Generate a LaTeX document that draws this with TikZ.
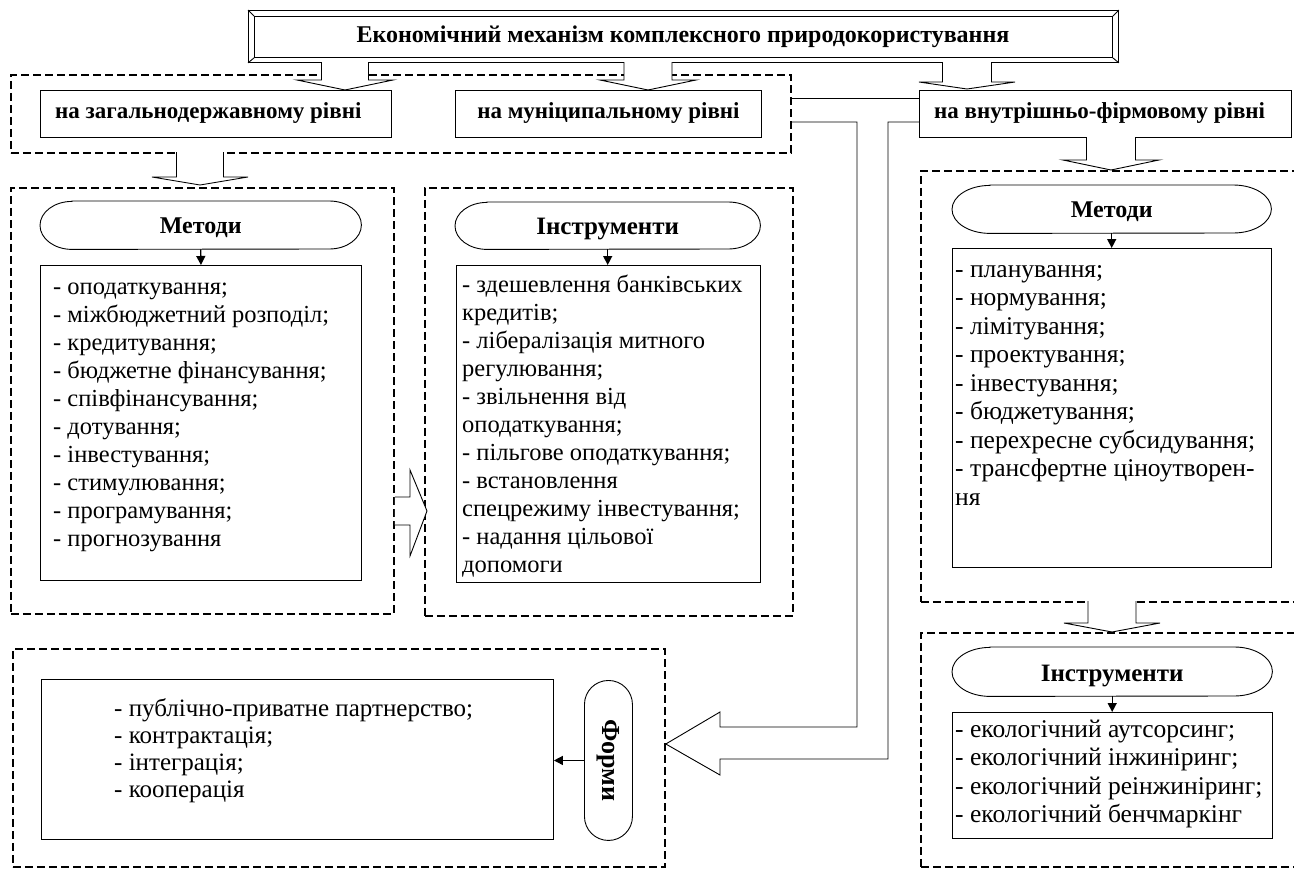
\documentclass[tikz,border=0pt]{standalone}
\usepackage{fontspec}
\setmainfont{Liberation Serif}
\usepackage{graphicx}
\usetikzlibrary{arrows.meta,calc}
\newcommand{\lst}[1]{\begin{tabular}[t]{@{}l@{}}#1\end{tabular}}
\newcommand{\blkdown}[6]{%
  \draw[barrow] ({#1-#3},{-#2}) -- ({#1-#3},{-#5}) -- ({#1-#4},{-#5}) -- (#1,{-#6}) -- ({#1+#4},{-#5}) -- ({#1+#3},{-#5}) -- ({#1+#3},{-#2});}
\newcommand{\ovalpath}[3]{%
  \draw[thinl, fill=white] ($(#1.north west)+(#2,0)$) -- ($(#1.north east)+(-#2,0)$)
    arc[start angle=90,end angle=-90,x radius=#2,y radius=#3]
    -- ($(#1.south west)+(#2,0)$)
    arc[start angle=270,end angle=90,x radius=#2,y radius=#3] -- cycle;}
\begin{document}
\begin{tikzpicture}[x=1pt,y=1pt,
  dbox/.style={draw, line width=1.8pt, dash pattern=on 8pt off 4pt, rectangle, inner sep=0pt, anchor=north west},
  sbox/.style={draw, line width=0.9pt, rectangle, inner sep=0pt, anchor=north west, fill=white},
  area/.style={rectangle, inner sep=0pt, anchor=north west},
  thinl/.style={line width=0.9pt},
  barrow/.style={draw, line width=0.9pt, fill=white, line join=miter},
  small/.style={line width=1.4pt, -{Triangle[length=9pt,width=9pt]}},
  lvl/.style={font=\fontsize{23}{27}\selectfont\bfseries, inner sep=0pt, anchor=base},
  ovt/.style={font=\fontsize{24}{28}\selectfont\bfseries, inner sep=0pt, anchor=base},
  body/.style={font=\fontsize{24.5}{28}\selectfont, inner sep=0pt, anchor=base west},
  bodyr/.style={font=\fontsize{25.5}{28.5}\selectfont, inner sep=0pt, anchor=base west},
]
\useasboundingbox (0,0) rectangle (1294,-870);
\clip (0,0) rectangle (1294,-870);

% dashed group frames
\node[dbox, minimum width=780pt, minimum height=78pt] (topdash) at (10,-74) {};
\node[dbox, minimum width=383pt, minimum height=426pt] (dashL) at (10,-187) {};
\node[dbox, minimum width=368pt, minimum height=428pt] (dashM) at (424,-187) {};
\node[dbox, minimum width=400pt, minimum height=431pt] (dashR1) at (920,-170) {};
\node[dbox, minimum width=400pt, minimum height=234pt] (dashR2) at (920,-632) {};
\node[dbox, minimum width=652pt, minimum height=218pt] (dashB) at (12,-648) {};

% title
\node[sbox, minimum width=870pt, minimum height=52pt] (title) at (248,-10) {};
\draw[thinl] ($(title.north west)+(6,-6)$) rectangle ($(title.south east)+(-6,5)$);
\draw[thinl] (title.north west) -- ++(6,-6);
\draw[thinl] (title.north east) -- ++(-6,-6);
\draw[thinl] (title.south west) -- ++(6,5);
\draw[thinl] (title.south east) -- ++(-6,5);
\node[font=\fontsize{24}{28}\selectfont\bfseries, inner sep=0pt, anchor=base] (titlet) at (683,-42) {Економічний механізм комплексного природокористування};

% level boxes
\node[sbox, minimum width=351pt, minimum height=47pt] (lvlA) at (40,-90) {};
\node[lvl, anchor=base west] (lvlAt) at (55,-118) {на загальнодержавному рівні};
\node[sbox, minimum width=306pt, minimum height=47pt] (lvlB) at (455,-90) {};
\node[lvl] (lvlBt) at (lvlB.center |- 0,-118) {на муніципальному рівні};
\node[sbox, minimum width=372pt, minimum height=47pt] (lvlC) at (919,-90) {};
\node[lvl, anchor=base west] (lvlCt) at (934,-118) {на внутрішньо-фірмовому рівні};

% connectors between level boxes and the big arrow to "Форми"
\coordinate (y98) at (0,-98);
\coordinate (y122) at (0,-122);
\coordinate (tipB) at (0,-744);
\draw[thinl] (topdash.east |- y98) -- (lvlC.west |- y98);
\draw[thinl, line join=miter] (topdash.east |- y122) -- (857,-122) -- (857,-727) -- (720,-727) -- (720,-712)
  -- (dashB.east |- tipB) -- (720,-775) -- (720,-759) -- (888,-759) -- (888,-122) -- (lvlC.west |- y122);

% left column: Методи
\node[area, minimum width=321pt, minimum height=48pt] (ovalL) at (40,-201) {};
\ovalpath{ovalL}{32}{24}
\node[ovt] (ovalLt) at (ovalL.center |- 0,-233) {Методи};
\node[sbox, minimum width=321pt, minimum height=315pt] (listL) at (40,-265) {};
\node[body] (listLt) at (53,-294) {\lst{- оподаткування;\\
- міжбюджетний розподіл;\\
- кредитування;\\
- бюджетне фінансування;\\
- співфінансування;\\
- дотування;\\
- інвестування;\\
- стимулювання;\\
- програмування;\\
- прогнозування}};
\draw[small] (ovalL.south) -- (listL.north);

% middle column: Інструменти
\node[area, minimum width=305pt, minimum height=47pt] (ovalM) at (455,-202) {};
\ovalpath{ovalM}{32}{23.5}
\node[ovt, font=\fontsize{25}{29}\selectfont\bfseries] (ovalMt) at (ovalM.center |- 0,-234) {Інструменти};
\node[sbox, minimum width=304pt, minimum height=317pt] (listM) at (456,-265) {};
\node[body] (listMt) at (462,-292) {\lst{- здешевлення банківських\\
кредитів;\\
- лібералізація митного\\
регулювання;\\
- звільнення від\\
оподаткування;\\
- пільгове оподаткування;\\
- встановлення\\
спецрежиму інвестування;\\
- надання цільової\\
допомоги}};
\draw[small] (ovalM.south) -- (ovalM.south |- listM.north);

% right column: Методи
\node[area, minimum width=319pt, minimum height=48pt] (ovalR1) at (952,-185) {};
\ovalpath{ovalR1}{38}{24}
\node[ovt] (ovalR1t) at (ovalR1.center |- 0,-217) {Методи};
\node[sbox, minimum width=319pt, minimum height=319pt] (listR1) at (952,-248) {};
\node[bodyr] (listR1t) at (955,-277) {\lst{- планування;\\
- нормування;\\
- лімітування;\\
- проектування;\\
- інвестування;\\
- бюджетування;\\
- перехресне субсидування;\\
- трансфертне ціноутворен-\\
ня}};
\draw[small] (ovalR1.south) -- (ovalR1.south |- listR1.north);

% right column: Інструменти
\node[area, minimum width=320pt, minimum height=49pt] (ovalR2) at (952,-647) {};
\ovalpath{ovalR2}{38}{24.5}
\node[ovt, font=\fontsize{25}{29}\selectfont\bfseries] (ovalR2t) at (ovalR2.center |- 0,-681) {Інструменти};
\node[sbox, minimum width=320pt, minimum height=126pt] (listR2) at (952,-712) {};
\node[bodyr] (listR2t) at (955,-737) {\lst{- екологічний аутсорсинг;\\
- екологічний інжиніринг;\\
- екологічний реінжиніринг;\\
- екологічний бенчмаркінг}};
\draw[small] (ovalR2.south) -- (ovalR2.south |- listR2.north);

% bottom: Форми
\node[sbox, minimum width=512pt, minimum height=160pt] (listB) at (41,-679) {};
\node[body, font=\fontsize{25}{27}\selectfont] (listBt) at (114,-716) {\lst{- публічно-приватне партнерство;\\
- контрактація;\\
- інтеграція;\\
- кооперація}};
\node[draw, thinl, rounded corners=24pt, minimum width=48pt, minimum height=160pt, inner sep=0pt, anchor=north west, fill=white] (formy) at (584,-680) {};
\node[rotate=-90, font=\fontsize{26}{30}\selectfont\bfseries, inner sep=0pt] (formyt) at (formy.center) {Форми};
\draw[small] (formy.west) -- (listB.east |- formy.west);

% block arrows
\blkdown{345}{62}{23.5}{48}{80}{90}
\blkdown{648}{62}{24}{48}{80}{90}
\blkdown{967}{62}{24.5}{48}{82}{89}
\blkdown{200}{152}{23.5}{48}{177}{185}
\blkdown{1111}{137}{24.5}{48}{160}{170}
\blkdown{1112}{601}{24}{48}{623}{632}
\draw[barrow] (dashL.east |- 0,-497) -- (410,-497) -- (410,-470) -- (427,-511) -- (410,-556) -- (410,-525) -- (dashL.east |- 0,-525);
\end{tikzpicture}
\end{document}
